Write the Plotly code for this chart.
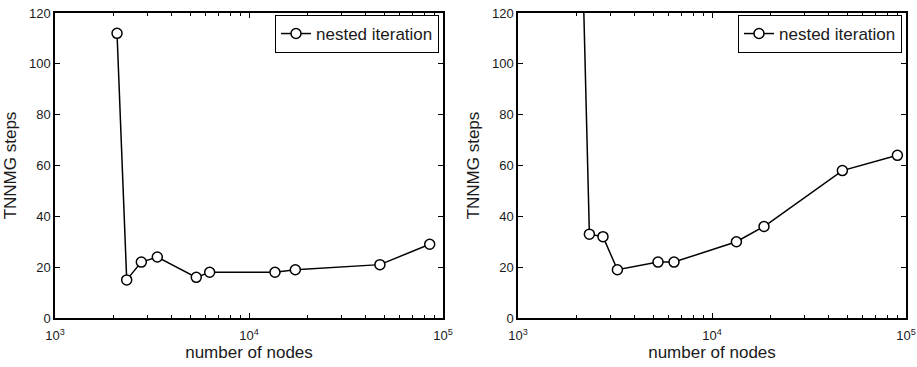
import plotly.graph_objects as go

# Data
nodes_left = [2088, 2342, 2786, 3368, 5348, 6270, 13610, 17330, 47300, 85400]
steps_left = [112, 15, 22, 24, 16, 18, 18, 19, 21, 29]
nodes_right = [2088, 2333, 2742, 3254, 5270, 6370, 13360, 18540, 46990, 90300]
steps_right = [180, 33, 32, 19, 22, 22, 30, 36, 58, 64]
series_name = "nested iteration"
x_title = "number of nodes"
y_title = "TNNMG steps"
x_tickvals = [1e3, 1e4, 1e5]
x_ticktext = ["10<sup>3</sup>", "10<sup>4</sup>", "10<sup>5</sup>"]
y_tickvals = [0, 20, 40, 60, 80, 100, 120]

minor_vals = [m * 10 ** e for e in (3, 4) for m in range(2, 10)]

FONT = "Liberation Sans, Arial, Helvetica, sans-serif"
TXT = "#1a1a1a"

fig = go.Figure()
marker = dict(symbol="circle", size=10, color="white", line=dict(color="black", width=1.5))
fig.add_trace(go.Scatter(x=nodes_left, y=steps_left, mode="lines+markers", name=series_name,
                         line=dict(color="black", width=1.5), marker=marker,
                         xaxis="x", yaxis="y", legend="legend"))
fig.add_trace(go.Scatter(x=nodes_right, y=steps_right, mode="lines+markers", name=series_name,
                         line=dict(color="black", width=1.5), marker=marker,
                         xaxis="x2", yaxis="y2", legend="legend2"))

def xax(domain, anchor):
    return dict(domain=domain, anchor=anchor, type="log", range=[3, 5], automargin=False,
                tickvals=x_tickvals, ticktext=x_ticktext, ticks="inside", ticklen=5,
                tickcolor="black", showline=True, linecolor="black", linewidth=1.5,
                mirror="allticks", showgrid=False, zeroline=False, ticklabelstandoff=5,
                minor=dict(tickvals=minor_vals, ticks="inside", ticklen=3, tickcolor="black"),
                title=dict(text=x_title, font=dict(size=17, family=FONT, color=TXT), standoff=2),
                tickfont=dict(size=13, family=FONT, color=TXT))

def yax(domain, anchor):
    return dict(domain=domain, anchor=anchor, range=[0, 120], tickvals=y_tickvals,
                automargin=False,
                ticks="inside", ticklen=5, tickcolor="black", showline=True,
                linecolor="black", linewidth=1.5, mirror="allticks", showgrid=False,
                zeroline=False,
                title=dict(text=y_title, font=dict(size=17, family=FONT, color=TXT), standoff=8),
                tickfont=dict(size=13, family=FONT, color=TXT))

W, H = 917, 367
yd = [(H - 318) / H, (H - 13) / H]
leg = dict(xanchor="right", yanchor="top", bordercolor="black", borderwidth=1,
           bgcolor="white", font=dict(size=17, family=FONT, color=TXT),
           itemwidth=30, tracegroupgap=0)
fig.update_layout(
    width=W, height=H, margin=dict(l=0, r=0, t=0, b=0),
    paper_bgcolor="white", plot_bgcolor="white",
    xaxis=xax([55 / W, 443 / W], "y"), yaxis=yax(yd, "x"),
    xaxis2=xax([518 / W, 906 / W], "y2"), yaxis2=yax(yd, "x2"),
    legend=dict(leg, x=439 / W, y=(H - 15) / H),
    legend2=dict(leg, x=902 / W, y=(H - 15) / H),
    showlegend=True,
)

fig.write_html("out.html")
